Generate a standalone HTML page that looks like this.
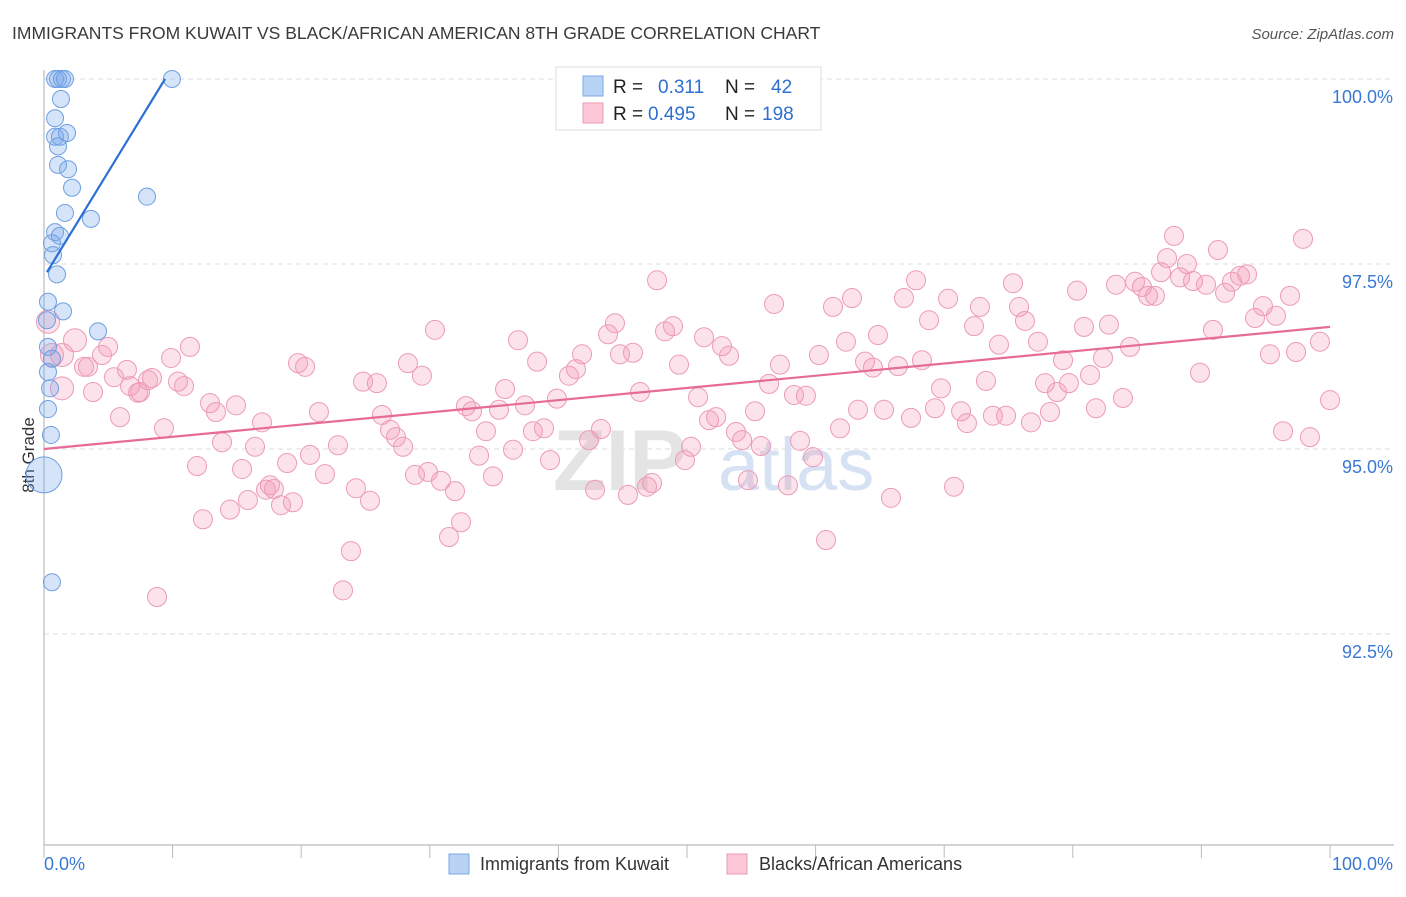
<!DOCTYPE html>
<html><head><meta charset="utf-8">
<style>
body{margin:0;background:#fff;font-family:"Liberation Sans",sans-serif;}
svg text{font-family:"Liberation Sans",sans-serif;}
</style></head>
<body>
<svg id="chart" width="1406" height="892" xmlns="http://www.w3.org/2000/svg">
<text x="12" y="39" font-size="17.5" fill="#3a3a3a">IMMIGRANTS FROM KUWAIT VS BLACK/AFRICAN AMERICAN 8TH GRADE CORRELATION CHART</text>
<text x="1394" y="39" font-size="15" fill="#555" text-anchor="end" font-style="italic">Source: ZipAtlas.com</text>
<g id="grid"></g>
<text x="553" y="490" font-size="86" fill="#e4e4e4" font-family="Liberation Serif" font-weight="bold">ZIP</text>
<text x="718" y="490" font-size="74" fill="#d6e2f3">atlas</text>
<line x1="44" y1="70" x2="44" y2="845" stroke="#bbb" stroke-width="1.2"/>
<line x1="44" y1="845" x2="1394" y2="845" stroke="#bbb" stroke-width="1.2"/>
<text transform="translate(34,455) rotate(-90)" font-size="17" fill="#333" text-anchor="middle">8th Grade</text>
<g id="ticks"></g>
<g id="points"></g>
<g id="trends"></g>
<g>
<rect x="556" y="67" width="265" height="63" fill="#fff" stroke="#ddd"/>
<rect x="583" y="76" width="20" height="20" fill="#b9d3f5" stroke="#7aa8e6"/>
<rect x="583" y="103" width="20" height="20" fill="#fcc8d8" stroke="#eb9ab5"/>
<text x="613" y="93" font-size="19" fill="#222">R =</text>
<text x="658" y="93" font-size="19" fill="#2f6fd0">0.311</text>
<text x="725" y="93" font-size="19" fill="#222">N =</text>
<text x="771" y="93" font-size="19" fill="#2f6fd0">42</text>
<text x="613" y="120" font-size="19" fill="#222">R =</text>
<text x="648" y="120" font-size="19" fill="#2f6fd0">0.495</text>
<text x="725" y="120" font-size="19" fill="#222">N =</text>
<text x="762" y="120" font-size="19" fill="#2f6fd0">198</text>
</g>
<g>
<rect x="449" y="854" width="20" height="20" fill="#b9d3f5" stroke="#7aa8e6"/>
<text x="480" y="870" font-size="18" fill="#333">Immigrants from Kuwait</text>
<rect x="727" y="854" width="20" height="20" fill="#fcc8d8" stroke="#eb9ab5"/>
<text x="759" y="870" font-size="18" fill="#333">Blacks/African Americans</text>
</g>
</svg>
<script>
const yTicks=[100,97.5,95,92.5];
const yTickLabels=["100.0%","97.5%","95.0%","92.5%"];
const xTickCount=[0,10,20,30,40,50,60,70,80,90,100];
const xEndLabels=["0.0%","100.0%"];
const blueX=[0.86,1.09,1.40,1.63,9.95,1.32,0.86,0.86,1.24,1.79,1.09,1.09,1.87,2.18,1.63,3.65,8.01,0.86,1.24,0.62,0.70,1.01,0.31,1.48,0.23,4.20,0.31,0.62,0.31,0.47,0.31,0.54,0.0,0.62];
const blueY=[100,100,100,100,100,99.73,99.47,99.22,99.22,99.27,99.09,98.84,98.78,98.53,98.19,98.11,98.41,97.93,97.88,97.78,97.62,97.36,96.99,96.86,96.74,96.59,96.38,96.22,96.04,95.82,95.54,95.19,94.65,93.20];
const blueSize=[1,1,1,1,1,1,1,1,1,1,1,1,1,1,1,1,1,1,1,1,1,1,1,1,1,1,1,1,1,1,1,1,2,1];
const pinkX=[0.31,0.62,1.40,2.41,1.40,3.42,3.11,4.51,4.98,5.44,6.45,3.81,5.91,6.69,7.47,8.09,8.40,7.31,9.33,9.88,10.42,10.89,11.35,8.79,11.90,12.36,12.91,13.37,13.84,14.46,14.93,15.40,15.86,16.41,16.95,17.26,17.57,17.88,18.43,18.90,19.36,19.75,20.30,20.68,21.38,21.85,22.86,23.87,23.25,24.26,24.81,25.35,25.89,26.28,26.91,27.37,27.92,28.30,28.85,29.39,29.86,30.40,30.87,31.49,31.96,32.43,32.81,33.28,33.83,34.37,34.91,35.38,35.85,36.47,36.86,37.40,38.02,38.34,38.88,39.35,39.89,40.82,41.37,41.84,42.38,42.85,43.31,43.86,44.40,44.79,45.41,45.80,46.35,46.89,47.28,47.67,48.29,48.91,49.38,49.84,50.31,50.86,51.32,51.71,52.26,52.72,53.27,53.81,54.28,54.74,55.29,55.75,56.38,56.77,57.23,57.85,58.32,58.79,59.25,59.80,60.26,60.81,61.35,61.90,62.36,62.83,63.30,63.84,64.46,64.85,65.32,65.86,66.41,66.87,67.42,67.81,68.27,68.82,69.28,69.75,70.30,70.76,71.31,71.77,72.32,72.78,73.25,73.79,74.26,74.81,75.35,75.82,76.28,76.75,77.29,77.84,78.23,78.77,79.24,79.70,80.33,80.87,81.34,81.80,82.35,82.81,83.36,83.90,84.45,84.84,85.38,85.85,86.39,86.86,87.33,87.87,88.34,88.88,89.35,89.89,90.36,90.90,91.29,91.84,92.38,93.00,93.55,94.17,94.79,95.33,95.80,96.35,96.89,97.36,97.90,98.44,99.22,100.0];
const pinkY=[96.72,96.27,96.27,96.47,95.82,96.11,96.11,96.27,96.38,95.97,96.07,95.77,95.43,95.85,95.77,95.93,95.96,95.76,95.28,96.23,95.91,95.85,96.38,93.00,94.77,94.05,95.62,95.50,95.09,94.18,95.59,94.73,94.31,95.03,95.36,94.45,94.51,94.46,94.24,94.81,94.28,96.16,96.11,94.92,95.50,94.66,95.05,93.62,93.09,94.47,95.91,94.30,95.89,95.46,95.26,95.16,95.03,96.16,94.65,95.99,94.69,96.61,94.57,93.81,94.43,94.01,95.58,95.51,94.91,95.24,94.63,95.53,95.81,94.99,96.47,95.59,95.24,96.18,95.28,94.85,95.68,95.99,96.08,96.28,95.12,94.45,95.27,96.55,96.70,96.28,94.38,96.30,95.77,94.49,94.54,97.28,96.59,96.66,96.14,94.85,95.03,95.70,96.51,95.39,95.43,96.39,96.26,95.23,95.12,94.58,95.51,95.04,95.88,96.96,96.14,94.51,95.73,95.11,95.72,94.89,96.27,93.77,96.92,95.28,96.45,97.04,95.53,96.18,96.10,96.54,95.53,94.34,96.12,97.04,95.42,97.28,96.20,96.74,95.55,95.82,97.03,94.49,95.51,95.35,96.66,96.92,95.92,95.45,96.41,95.45,97.24,96.92,96.73,95.36,96.45,95.89,95.50,95.77,96.20,95.89,97.14,96.65,96.00,95.55,96.23,96.68,97.22,95.69,96.38,97.26,97.19,97.07,97.07,97.39,97.58,97.88,97.32,97.50,97.27,96.03,97.22,96.61,97.69,97.11,97.26,97.34,97.36,96.77,96.93,96.28,96.80,95.24,97.07,96.31,97.84,95.16,96.45,95.66];
const blueTrendX=[0.23,9.41];
const blueTrend=[97.39,100.0];
const pinkTrendX=[0,100];
const pinkTrend=[95.0,96.65];

const NS="http://www.w3.org/2000/svg";
const xs=v=>44+v*12.86;
const ys=v=>79+(100-v)*74;
function mk(tag,attrs,parent){const e=document.createElementNS(NS,tag);for(const k in attrs)e.setAttribute(k,attrs[k]);parent.appendChild(e);return e;}
const grid=document.getElementById('grid'),ticks=document.getElementById('ticks'),pts=document.getElementById('points'),tr=document.getElementById('trends');
yTicks.forEach((t,i)=>{
  const l=mk('line',{x1:44,x2:1394,y1:ys(t),y2:ys(t),stroke:'#ddd','stroke-dasharray':'5,4'},grid);
  
  
  const tx=mk('text',{x:1393,y:ys(t)+24,'font-size':18,fill:'#3a78d4','text-anchor':'end'},ticks);
  tx.textContent=yTickLabels[i];
  
  
});
xTickCount.forEach(t=>{
  const l=mk('line',{x1:xs(t),x2:xs(t),y1:845,y2:858,stroke:'#bbb'},ticks);
  
  
});
const xl0=mk('text',{x:44,y:870,'font-size':18,fill:'#3a78d4'},ticks);xl0.textContent=xEndLabels[0];


const xl1=mk('text',{x:1393,y:870,'font-size':18,fill:'#3a78d4','text-anchor':'end'},ticks);xl1.textContent=xEndLabels[1];


pinkX.forEach((x,i)=>{
  const c=mk('circle',{cx:xs(x),cy:ys(pinkY[i]),r:(x<3?11.5:9.5),fill:'rgba(244,150,180,0.28)',stroke:'#ec9bb6','stroke-width':1},pts);
  
  
});
blueX.forEach((x,i)=>{
  const c=mk('circle',{cx:xs(x),cy:ys(blueY[i]),r:8.5*blueSize[i]+(blueSize[i]>1?1:0),fill:'rgba(120,165,235,0.3)',stroke:'#6e9fe2','stroke-width':1},pts);
  
  
});
const pl=mk('line',{x1:xs(pinkTrendX[0]),y1:ys(pinkTrend[0]),x2:xs(pinkTrendX[1]),y2:ys(pinkTrend[1]),stroke:'#e66b96','stroke-width':2.2},tr);


const bl=mk('line',{x1:xs(blueTrendX[0]),y1:ys(blueTrend[0]),x2:xs(blueTrendX[1]),y2:ys(blueTrend[1]),stroke:'#2b6fd6','stroke-width':2.2},tr);


</script>
</body></html>
